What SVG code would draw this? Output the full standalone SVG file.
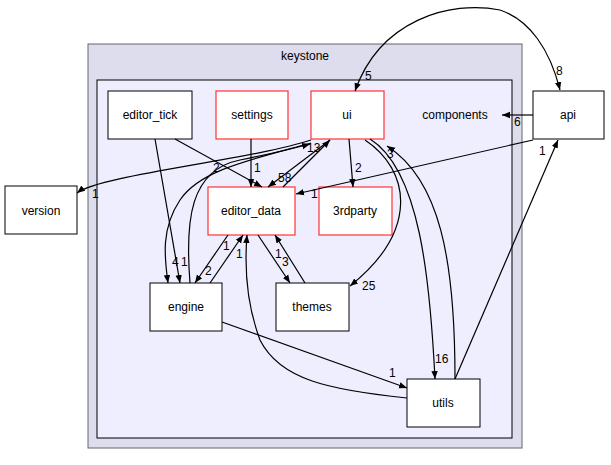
<svg xmlns="http://www.w3.org/2000/svg" width="611" height="465" viewBox="0 0 611 465">
<style>
text{font-family:"Liberation Sans",Arial,sans-serif;font-size:12px;fill:#000}
.n{fill:#fff;stroke:#000;stroke-width:1}
.r{fill:#fff;stroke:#ff3333;stroke-width:1.2}
.e{fill:none;stroke:#000;stroke-width:1.2;marker-end:url(#a)}
.c{text-anchor:middle}
</style>
<defs><marker id="a" viewBox="0 0 10 10" refX="10" refY="5" markerWidth="8" markerHeight="8" orient="auto-start-reverse" markerUnits="userSpaceOnUse"><path d="M0,1 L10,5 L0,9 z" fill="#000"/></marker></defs>
<g id="keystone"><rect x="88" y="44" width="434" height="404" fill="#ddddee" stroke="#666"/><text x="305" y="60" class="c">keystone</text></g>
<g id="components"><rect x="97" y="80" width="415" height="358" fill="#eeeeff" stroke="#000"/><text x="455" y="119" class="c">components</text></g>
<g id="editor_tick"><rect class="n" x="108" y="91" width="84" height="48"/><text x="150" y="119" class="c">editor_tick</text></g>
<g id="settings"><rect class="r" x="216" y="91" width="72" height="48"/><text x="252" y="119" class="c">settings</text></g>
<g id="ui"><rect class="r" x="311" y="91" width="73" height="48"/><text x="347" y="119" class="c">ui</text></g>
<g id="api"><rect class="n" x="533" y="91" width="71" height="48"/><text x="568" y="119" class="c">api</text></g>
<g id="version"><rect class="n" x="5" y="186" width="72" height="48"/><text x="41" y="215" class="c">version</text></g>
<g id="editor_data"><rect class="r" x="208" y="187" width="87" height="48"/><text x="251" y="215" class="c">editor_data</text></g>
<g id="3rdparty"><rect class="r" x="319" y="187" width="73" height="48"/><text x="355" y="215" class="c">3rdparty</text></g>
<g id="engine"><rect class="n" x="150" y="283" width="72" height="48"/><text x="186" y="311" class="c">engine</text></g>
<g id="themes"><rect class="n" x="276" y="283" width="73" height="48"/><text x="312" y="311" class="c">themes</text></g>
<g id="utils"><rect class="n" x="407" y="379" width="73" height="48"/><text x="443" y="407" class="c">utils</text></g>
<g id="edges">
<path class="e" d="M355,91 C380,20 450,0 500,10 C530,20 550,50 560,90" style="marker-start:url(#a)"/>
<path class="e" d="M533,115 L502,115"/>
<path class="e" d="M533,140 L296,194"/>
<path class="e" d="M311,140 C250,160 100,175 77,193"/>
<path class="e" d="M175,139 L262,187"/>
<path class="e" d="M155,139 L180,283"/>
<path class="e" d="M251,139 L251,187"/>
<path class="e" d="M330,140 L268,187"/>
<path class="e" d="M283,187 L330,140"/>
<path class="e" d="M349,139 L353,187"/>
<path class="e" d="M311,143 C250,160 200,170 180,200 C160,230 165,260 168,283"/>
<path class="e" d="M190,283 C185,220 190,170 240,160 C280,152 295,148 310,144"/>
<path class="e" d="M228,235 L195,283"/>
<path class="e" d="M210,283 L243,235"/>
<path class="e" d="M258,235 L290,283"/>
<path class="e" d="M305,283 L275,235"/>
<path class="e" d="M365,140 C410,170 420,230 350,286"/>
<path class="e" d="M370,139 C420,170 430,280 435,379"/>
<path class="e" d="M455,379 C455,260 440,180 387,146"/>
<path class="e" d="M407,398 C330,390 280,380 260,340 C245,300 245,260 247,235"/>
<path class="e" d="M222,322 L407,388"/>
<path class="e" d="M455,379 L558,140"/>
</g>
<g id="labels">
<text x="556" y="75">8</text><text x="365" y="80">5</text>
<text x="514" y="126">6</text><text x="311" y="198">1</text><text x="92" y="198">1</text>
<text x="213" y="172">2</text><text x="181" y="266">1</text><text x="172" y="266">4</text>
<text x="254" y="172">1</text><text x="278" y="182">58</text><text x="307" y="152">13</text>
<text x="355" y="172">2</text><text x="223" y="250">1</text><text x="205" y="275">2</text>
<text x="236" y="258">1</text><text x="275" y="258">1</text><text x="282" y="266">3</text>
<text x="362" y="290">25</text><text x="435" y="363">16</text><text x="387" y="158">3</text>
<text x="389" y="377">1</text><text x="539" y="155">1</text>
</g>
</svg>
